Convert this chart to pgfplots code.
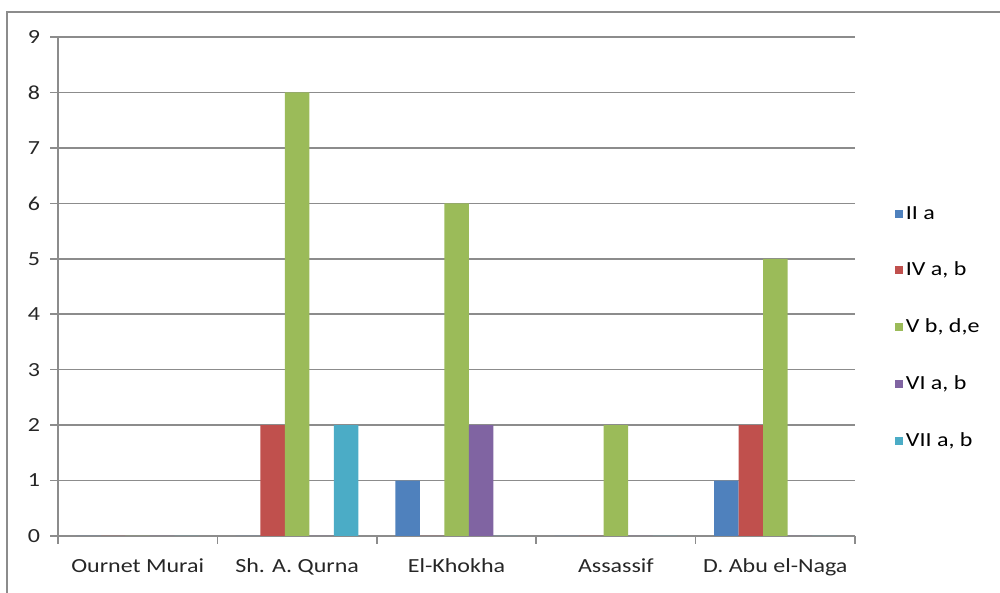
\documentclass[border=0pt]{standalone}
\usepackage{fontspec}
\setmainfont{Carlito}[FakeStretch=1.2]
\usepackage{pgfplots}
\usepackage{pgfplotstable}
\pgfplotsset{compat=1.18}

\definecolor{cII}{HTML}{4F81BD}
\definecolor{cIV}{HTML}{C0504D}
\definecolor{cV}{HTML}{9BBB59}
\definecolor{cVI}{HTML}{8064A2}
\definecolor{cVII}{HTML}{4BACC6}
\definecolor{gridgray}{HTML}{8C8C8C}

% counts per necropolis and type
\pgfplotstableread{
x IIa IVab Vbde VIab VIIab
0 0 0 0 0 0
1 0 2 8 0 2
2 1 0 6 2 0
3 0 0 2 0 0
4 1 2 5 0 0
}\datatable

\begin{document}
\begin{tikzpicture}
\begin{axis}[
  scale only axis,
  width=398.5pt, height=249.5pt,
  ybar=0pt, bar width=12.25pt,
  xmin=-0.5, xmax=4.5, ymin=0, ymax=9,
  xtick={-0.5,0.5,...,4.5},
  x tick label as interval,
  xticklabels={Ournet Murai, Sh. A. Qurna, El-Khokha, Assassif, D. Abu el-Naga},
  ytick={0,...,9},
  ymajorgrids,
  grid style={line width=0.8pt, gridgray},
  axis lines=left,
  axis line style={-, line width=0.8pt, gridgray},
  tick align=outside,
  major tick length=4pt,
  tick style={line width=0.8pt, gridgray},
  tick label style={font=\fontsize{10pt}{12pt}\selectfont, text=black!85},
  xticklabel style={yshift=-4pt},
  yticklabel style={xshift=-1.5pt},
  /pgf/number format/assume math mode=true,
  legend style={draw=none, fill=none, at={(rel axis cs:1.042,0.417)}, anchor=west,
    font=\fontsize{10pt}{12pt}\selectfont, row sep=16pt,
    nodes={inner xsep=1.5pt}},
  legend cell align=left,
  legend image code/.code={\fill[#1] (0pt,-2pt) rectangle (4pt,2pt);},
  every axis plot/.append style={draw=none},
]
\addplot[fill=cII]   table[x=x, y=IIa]   {\datatable};
\addplot[fill=cIV]   table[x=x, y=IVab]  {\datatable};
\addplot[fill=cV]    table[x=x, y=Vbde]  {\datatable};
\addplot[fill=cVI]   table[x=x, y=VIab]  {\datatable};
\addplot[fill=cVII]  table[x=x, y=VIIab] {\datatable};
\legend{II a, IV a{,} b, V b{,} d{,}e, VI a{,} b, VII a{,} b}
\node[font=\fontsize{10pt}{12pt}\selectfont] at (rel axis cs:1.104,0.878) {b};
\end{axis}
\draw[gridgray, line width=0.8pt] (-25.5pt,-40pt) rectangle (480pt,262pt);
\pgfresetboundingbox
\path (-29pt,-28.5pt) rectangle (471pt,268pt);
\end{tikzpicture}
\end{document}
